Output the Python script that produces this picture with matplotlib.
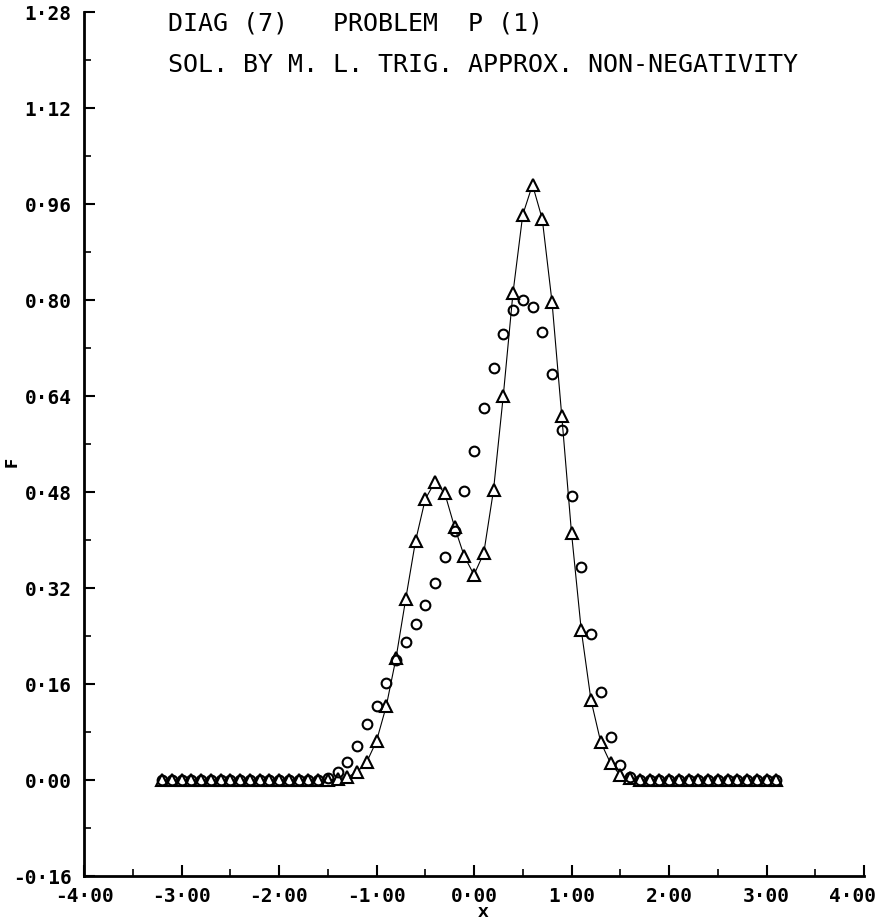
"""
DIAG (7) - problem P(1): M.L. trig approximation with non-negativity.
Triangles joined by a thin line, circles plotted as points only.
"""
import matplotlib
matplotlib.use('Agg')
import matplotlib.pyplot as plt
from matplotlib.ticker import MultipleLocator, FuncFormatter

# sample positions (step 0.1)
x_vals = [-3.2, -3.1, -3.0, -2.9, -2.8, -2.7, -2.6, -2.5, -2.4, -2.3, -2.2, -2.1,
          -2.0, -1.9, -1.8, -1.7, -1.6, -1.5, -1.4, -1.3, -1.2, -1.1, -1.0, -0.9,
          -0.8, -0.7, -0.6, -0.5, -0.4, -0.3, -0.2, -0.1, 0.0, 0.1, 0.2, 0.3,
          0.4, 0.5, 0.6, 0.7, 0.8, 0.9, 1.0, 1.1, 1.2, 1.3, 1.4, 1.5,
          1.6, 1.7, 1.8, 1.9, 2.0, 2.1, 2.2, 2.3, 2.4, 2.5, 2.6, 2.7,
          2.8, 2.9, 3.0, 3.1]

# triangles (with line)
f_tri = [0.0, 0.0, 0.0, 0.0, 0.0, 0.0, 0.0, 0.0, 0.0, 0.0, 0.0, 0.0,
         0.0, 0.0, 0.0, 0.0, 0.0, 0.0, 0.002, 0.005, 0.013, 0.030, 0.065, 0.123,
         0.203, 0.302, 0.398, 0.468, 0.497, 0.478, 0.422, 0.373, 0.342, 0.378, 0.483, 0.640,
         0.812, 0.942, 0.992, 0.935, 0.797, 0.607, 0.412, 0.250, 0.133, 0.063, 0.028, 0.008,
         0.003, 0.0, 0.0, 0.0, 0.0, 0.0, 0.0, 0.0, 0.0, 0.0, 0.0, 0.0,
         0.0, 0.0, 0.0, 0.0]

# circles (points only)
f_circ = [0.0, 0.0, 0.0, 0.0, 0.0, 0.0, 0.0, 0.0, 0.0, 0.0, 0.0, 0.0,
          0.0, 0.0, 0.0, 0.0, 0.0, 0.003, 0.013, 0.030, 0.057, 0.093, 0.123, 0.162,
          0.200, 0.230, 0.260, 0.292, 0.328, 0.372, 0.415, 0.482, 0.548, 0.620, 0.687, 0.743,
          0.783, 0.800, 0.788, 0.747, 0.677, 0.583, 0.473, 0.355, 0.243, 0.147, 0.072, 0.025,
          0.005, 0.0, 0.0, 0.0, 0.0, 0.0, 0.0, 0.0, 0.0, 0.0, 0.0, 0.0,
          0.0, 0.0, 0.0, 0.0]

title_1 = "DIAG (7)   PROBLEM  P (1)"
title_2 = "SOL. BY M. L. TRIG. APPROX. NON-NEGATIVITY"
x_max = 4.0

W, H = 882, 924
fig = plt.figure(figsize=(W / 100, H / 100), dpi=100)
ax = fig.add_axes([84 / W, 48 / H, 780 / W, 864 / H])

ax.plot(x_vals, f_tri, color="black", lw=0.8, marker="^", ms=8,
        mfc="white", mec="black", mew=1.5, zorder=3)
ax.plot(x_vals, f_circ, ls="none", marker="o", ms=7,
        mfc="none", mec="black", mew=1.5, zorder=4)

ax.set_xlim(-x_max, x_max)
ax.set_ylim(-0.16, 1.28)

for side in ["top", "right"]:
    ax.spines[side].set_visible(False)
for side in ["left", "bottom"]:
    ax.spines[side].set_linewidth(2)

ax.xaxis.set_major_locator(MultipleLocator(1.0))
ax.xaxis.set_minor_locator(MultipleLocator(0.5))
ax.yaxis.set_major_locator(MultipleLocator(0.16))
ax.yaxis.set_minor_locator(MultipleLocator(0.08))


def dot_fmt(v):
    return f"{v:.2f}".replace(".", "\u00b7")


# the 4.00 label is drawn separately so it can sit inside the figure edge
ax.xaxis.set_major_formatter(FuncFormatter(lambda v, p: "" if abs(v - x_max) < 1e-9 else dot_fmt(v)))
ax.yaxis.set_major_formatter(FuncFormatter(lambda v, p: dot_fmt(v)))

ax.tick_params(which="major", direction="in", length=8, width=1.5)
ax.tick_params(which="minor", direction="in", length=5, width=1.2)
ax.tick_params(axis="y", which="major", pad=9)
ax.tick_params(axis="x", which="major", pad=8)

tick_font = {"family": "DejaVu Sans Mono", "weight": "bold", "size": 14}
fig.canvas.draw()
for lab in ax.get_xticklabels() + ax.get_yticklabels():
    lab.set_fontfamily(tick_font["family"])
    lab.set_fontweight(tick_font["weight"])
    lab.set_fontsize(tick_font["size"])

ax.annotate(dot_fmt(x_max), xy=(x_max, 0), xycoords=("data", "axes fraction"),
            xytext=(12, -20), textcoords="offset pixels", ha="right", va="center",
            annotation_clip=False, **tick_font)

fig.text(168 / W, 1 - 23 / H, title_1, family="DejaVu Sans Mono", fontsize=18,
         ha="left", va="center")
fig.text(168 / W, 1 - 65 / H, title_2, family="DejaVu Sans Mono", fontsize=18,
         ha="left", va="center")

fig.text(483 / W, 1 - 913 / H, "X", family="DejaVu Sans", fontweight="bold",
         fontsize=10, ha="center", va="center")
fig.text(12 / W, 1 - 462 / H, "F", family="DejaVu Sans", fontweight="bold",
         fontsize=11, ha="center", va="center", rotation=90)

fig.savefig("out.png", dpi=100)
plt.close(fig)
